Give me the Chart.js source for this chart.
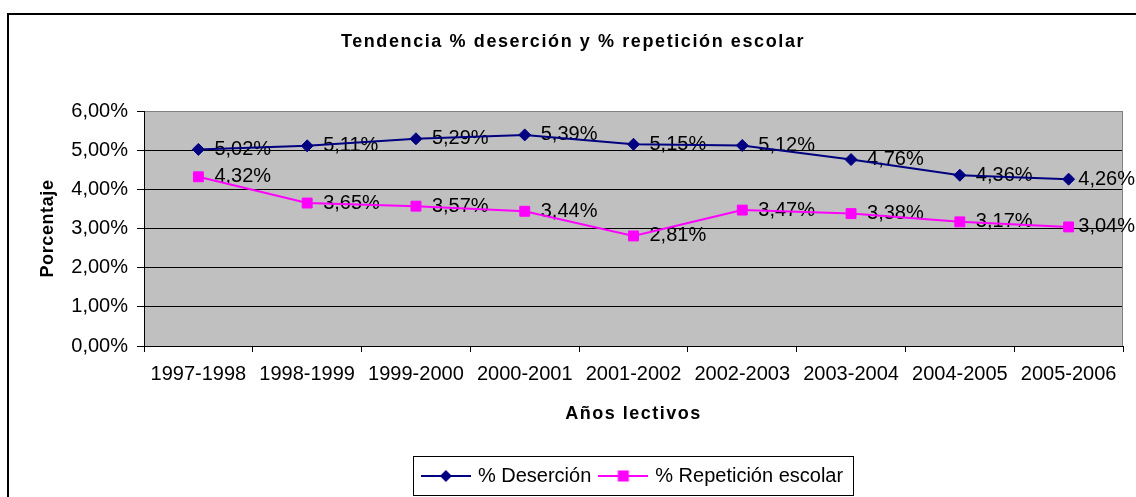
<!DOCTYPE html>
<html>
<head>
<meta charset="utf-8">
<script src="https://cdn.jsdelivr.net/npm/chart.js@4/dist/chart.umd.min.js"></script>
<style>
  html, body { margin: 0; padding: 0; background: #ffffff; }
  canvas { display: block; }
</style>
</head>
<body>
<canvas id="c" width="1136" height="497"></canvas>
<script>
const categories = ['1997-1998', '1998-1999', '1999-2000', '2000-2001', '2001-2002', '2002-2003', '2003-2004', '2004-2005', '2005-2006'];
const desercion = [5.02, 5.11, 5.29, 5.39, 5.15, 5.12, 4.76, 4.36, 4.26];
const repeticion = [4.32, 3.65, 3.57, 3.44, 2.81, 3.47, 3.38, 3.17, 3.04];
const yMin = 0, yMax = 6, yStep = 1;
const chartTitle = 'Tendencia % deserción y % repetición escolar';
const xTitle = 'Años lectivos';
const yTitle = 'Porcentaje';
const seriesNames = ['% Deserción', '% Repetición escolar'];

const NAVY = '#000080', MAGENTA = '#FF00FF';
const FONT = '"Liberation Sans", Arial, sans-serif';
const fmt = v => v.toFixed(2).replace('.', ',') + '%';

// letter spacing for bold titles (mimics original rendering)
const spacing = { title: '1.6px', x: '1.5px', y: '0.6px' };
if (Chart.Title && Chart.Title._element) {
  const T = Chart.Title._element.prototype;
  const orig = T.draw;
  T.draw = function () { const c = this.ctx; c.save(); c.letterSpacing = spacing.title; orig.apply(this, arguments); c.restore(); };
}
{
  const S = Chart.Scale.prototype;
  const orig = S.drawTitle;
  S.drawTitle = function () { const c = this.ctx; c.save(); c.letterSpacing = spacing[this.id] || '0px'; orig.apply(this, arguments); c.restore(); };
}

function makeSample(color, kind) {
  const cv = document.createElement('canvas');
  cv.width = 50; cv.height = 16;
  const g = cv.getContext('2d');
  g.strokeStyle = color; g.lineWidth = 2;
  g.beginPath(); g.moveTo(0, 8); g.lineTo(50, 8); g.stroke();
  g.fillStyle = color;
  if (kind === 'diamond') {
    g.beginPath(); g.moveTo(25, 2); g.lineTo(31, 8); g.lineTo(25, 14); g.lineTo(19, 8); g.closePath(); g.fill();
  } else {
    g.fillRect(19.5, 2.5, 11, 11);
  }
  return cv;
}
const samples = [makeSample(NAVY, 'diamond'), makeSample(MAGENTA, 'square')];

const decor = {
  id: 'decor',
  beforeDraw(chart) {
    const { ctx, chartArea: a } = chart;
    ctx.save();
    ctx.fillStyle = '#C0C0C0';
    ctx.fillRect(a.left, a.top, a.right - a.left, a.bottom - a.top);
    ctx.restore();
  },
  beforeDatasetsDraw(chart) {
    const { ctx, chartArea: a } = chart;
    ctx.save();
    ctx.strokeStyle = '#808080'; ctx.lineWidth = 1;
    ctx.beginPath(); ctx.moveTo(Math.round(a.right) - 0.5, a.top); ctx.lineTo(Math.round(a.right) - 0.5, a.bottom); ctx.stroke();
    // data labels (drawn under the lines, as in the original)
    ctx.font = '20px ' + FONT;
    ctx.fillStyle = '#000';
    ctx.textAlign = 'left';
    ctx.textBaseline = 'middle';
    chart.data.datasets.forEach((ds, i) => {
      const meta = chart.getDatasetMeta(i);
      meta.data.forEach((pt, j) => {
        const t = fmt(ds.data[j]);
        const w = ctx.measureText(t).width;
        const x = Math.min(pt.x + 16, chart.width - w - 1);
        ctx.fillText(t, x, pt.y);
      });
    });
    ctx.restore();
  },
  afterDraw(chart) {
    const { ctx } = chart;
    ctx.save();
    const hb = chart.legend && chart.legend.legendHitBoxes;
    if (hb && hb.length) {
      const l = hb[0].left - 11;
      const last = hb[hb.length - 1];
      const r = last.left + last.width + 10;
      const t = hb[0].top - 10;
      ctx.strokeStyle = '#000'; ctx.lineWidth = 1;
      ctx.strokeRect(Math.round(l) + 0.5, Math.round(t) + 0.5, Math.round(r - l), 39);
    }
    ctx.strokeStyle = '#000'; ctx.lineWidth = 2;
    ctx.strokeRect(8, 14, 1300, 700);
    ctx.restore();
  }
};

new Chart(document.getElementById('c'), {
  type: 'line',
  data: {
    labels: categories,
    datasets: [
      {
        label: seriesNames[0], data: desercion,
        borderColor: NAVY, backgroundColor: NAVY, borderWidth: 2,
        pointStyle: 'rectRot', pointRadius: 6, pointBorderWidth: 1,
        pointBackgroundColor: NAVY, pointBorderColor: NAVY, tension: 0
      },
      {
        label: seriesNames[1], data: repeticion,
        borderColor: MAGENTA, backgroundColor: MAGENTA, borderWidth: 2,
        pointStyle: 'rect', pointRadius: 7, pointBorderWidth: 1,
        pointBackgroundColor: MAGENTA, pointBorderColor: MAGENTA, tension: 0
      }
    ]
  },
  options: {
    responsive: false,
    animation: false,
    layout: { padding: { left: 23, right: 13, top: 0, bottom: 1 } },
    plugins: {
      title: {
        display: true, text: chartTitle, color: '#000',
        font: { family: FONT, size: 18, weight: 'bold', lineHeight: 1.2 },
        padding: { top: 31, bottom: 58.4 }
      },
      legend: {
        display: true, position: 'bottom', fullSize: false,
        labels: {
          color: '#000', font: { family: FONT, size: 20 },
          usePointStyle: true, pointStyleWidth: 44, padding: 10,
          generateLabels(chart) {
            const items = Chart.defaults.plugins.legend.labels.generateLabels(chart);
            items.forEach((it, i) => { it.pointStyle = samples[i]; });
            return items;
          }
        }
      },
      tooltip: { enabled: false }
    },
    scales: {
      x: {
        type: 'category', offset: true,
        afterFit: s => { s.height = 110; },
        grid: { offset: true, drawOnChartArea: false, drawTicks: true, tickLength: 6, color: '#000', lineWidth: 1 },
        border: { display: true, color: '#000', width: 1 },
        ticks: { color: '#000', font: { family: FONT, size: 20 }, padding: 10, maxRotation: 0, autoSkip: false },
        title: {
          display: true, text: xTitle, color: '#000',
          font: { family: FONT, size: 18, weight: 'bold', lineHeight: 1.2 },
          padding: { top: 0, bottom: 31 }
        }
      },
      y: {
        min: yMin, max: yMax,
        afterFit: s => { s.width = 121; },
        grid: {
          color: c => (c.tick && c.tick.value === yMax) ? '#808080' : '#000',
          tickColor: '#000', lineWidth: 1, tickLength: 7, drawTicks: true
        },
        border: { display: true, color: '#000', width: 1 },
        ticks: {
          stepSize: yStep, color: '#000', font: { family: FONT, size: 20 }, padding: 9,
          callback: v => fmt(v)
        },
        title: {
          display: true, text: yTitle, color: '#000',
          font: { family: FONT, size: 18, weight: 'bold', lineHeight: 1.2 },
          padding: { top: 14, bottom: 0 }
        }
      }
    }
  },
  plugins: [decor]
});
</script>
</body>
</html>
